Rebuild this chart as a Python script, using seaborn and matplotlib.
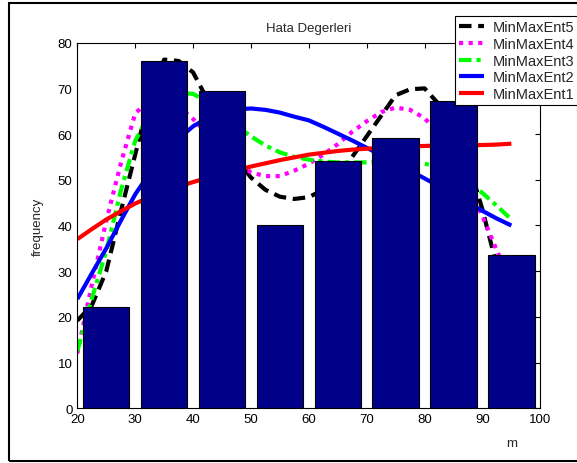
import matplotlib
matplotlib.use("Agg")
import matplotlib.pyplot as plt
from matplotlib.patches import Rectangle
import seaborn as sns

# ---- data ----
bar_centers = [25, 35, 45, 55, 65, 75, 85, 95]
bar_heights = [22.2, 76.0, 69.5, 40.0, 54.0, 59.2, 67.3, 33.6]

curve_x = [20, 22.5, 25, 27.5, 30, 32.5, 35, 37.5, 40, 42.5, 45, 47.5, 50, 52.5,
           55, 57.5, 60, 62.5, 65, 67.5, 70, 72.5, 75, 77.5, 80, 82.5, 85, 87.5,
           90, 92.5, 95]

ent1 = [37.0, 39.2, 41.3, 43.1, 44.8, 46.2, 47.4, 48.5, 49.5, 50.4, 51.3, 52.1,
        52.9, 53.6, 54.3, 54.9, 55.5, 55.9, 56.3, 56.6, 56.8, 57.0, 57.2, 57.3,
        57.4, 57.5, 57.5, 57.6, 57.6, 57.7, 57.9]
ent2 = [23.9, 29.5, 35.0, 41.0, 46.8, 51.5, 55.5, 59.0, 61.7, 63.5, 64.8, 65.4,
        65.6, 65.3, 64.7, 63.8, 63.0, 61.6, 60.1, 58.6, 57.0, 55.4, 53.7, 52.0,
        50.3, 48.6, 47.0, 45.2, 43.2, 41.5, 40.0]
ent3 = [12.5, 24.0, 34.4, 47.5, 58.5, 64.5, 67.5, 69.0, 68.8, 67.0, 64.5, 61.8,
        59.5, 57.5, 56.0, 55.0, 54.4, 54.0, 53.8, 53.8, 53.8, 54.0, 54.0, 53.8,
        53.5, 52.9, 51.7, 49.8, 47.1, 44.3, 41.3]
ent4 = [12.0, 27.0, 41.0, 53.5, 64.5, 67.5, 68.0, 66.0, 63.3, 60.0, 56.8, 54.0,
        51.6, 50.8, 50.8, 52.0, 53.5, 55.5, 57.8, 60.5, 62.8, 64.8, 65.8, 65.3,
        63.5, 60.0, 55.0, 49.0, 42.0, 34.5, 27.0]
ent5 = [19.2, 22.5, 30.0, 43.0, 55.5, 68.0, 76.3, 76.0, 73.5, 67.5, 60.5, 54.5,
        50.5, 47.8, 46.3, 45.8, 46.2, 47.8, 50.8, 55.0, 59.5, 64.0, 68.5, 69.8,
        70.0, 66.5, 61.5, 54.0, 43.5, 31.0, 19.0]

series_labels = ["MinMaxEnt5", "MinMaxEnt4", "MinMaxEnt3", "MinMaxEnt2", "MinMaxEnt1"]
series_values = [ent5, ent4, ent3, ent2, ent1]
series_colors = ["black", "#ff00ff", "#00ff00", "#0000ff", "#ff0000"]
series_dashes = [(3, 1.6), (1, 1.3), (3, 1.2, 1, 1.2), None, None]

x_ticks = [20, 30, 40, 50, 60, 70, 80, 90, 100]
y_ticks = [0, 10, 20, 30, 40, 50, 60, 70, 80]

# ---- figure ----
sns.set_style("white")
plt.rcParams["font.family"] = ["Liberation Sans", "DejaVu Sans"]

fig = plt.figure(figsize=(5.77, 4.64), dpi=100)
fig.patch.set_facecolor("white")
ax = fig.add_axes([0.1340, 0.1179, 0.8024, 0.7880])

sns.barplot(x=bar_centers, y=bar_heights, native_scale=True, width=0.8,
            color="#000088", saturation=1, edgecolor="black", linewidth=0.8,
            ax=ax, zorder=3)
for p in ax.patches:
    p.set_zorder(3)

handles = []
for vals, col, dsh, lab in zip(series_values, series_colors, series_dashes, series_labels):
    sns.lineplot(x=curve_x, y=vals, color=col, linewidth=3, ax=ax,
                 legend=False, zorder=2)
    ln = ax.lines[-1]
    if dsh is not None:
        ln.set_dashes(dsh)
    ln.set_dash_capstyle("butt")
    ln.set_solid_capstyle("butt")
    ln.set_label(lab)
    handles.append(ln)

ax.set_xlim(20, 100)
ax.set_ylim(0, 80)
ax.set_xticks(x_ticks)
ax.set_yticks(y_ticks)
ax.set_xticklabels([str(v) for v in x_ticks])
ax.set_yticklabels([str(v) for v in y_ticks])
ax.tick_params(direction="in", length=3.5, width=0.8, top=True, right=True,
               labelsize=9.5, pad=3.5, colors="black")
for s in ax.spines.values():
    s.set_visible(True)
    s.set_color("black")
    s.set_linewidth(0.8)
    s.set_zorder(4)

ax.set_title("Hata Degerleri", fontsize=9.5, pad=8.4)
ax.set_ylabel("frequency", fontsize=9.5)
ax.yaxis.set_label_coords(-0.0715, 0.5)
ax.set_xlabel("m", fontsize=9.5)
ax.xaxis.set_label_coords(0.939, -0.079)

leg = ax.legend(handles=handles, labels=series_labels, loc="upper left",
                bbox_to_anchor=(454.5 / 577, 1 - 17 / 464),
                bbox_transform=fig.transFigure, frameon=True, fancybox=False,
                edgecolor="black", framealpha=1, borderpad=0.3,
                borderaxespad=0, labelspacing=0.18, handlelength=1.75,
                handletextpad=0.55, fontsize=10.5)
leg.get_frame().set_linewidth(0.8)
leg.set_zorder(10)

fig.patches.append(Rectangle((8.8 / 577, 1 - 461.5 / 464), 1.2, (461.5 - 3.5) / 464,
                             transform=fig.transFigure, fill=False,
                             edgecolor="black", linewidth=1.5, clip_on=False))

fig.savefig("out.png", dpi=100)
